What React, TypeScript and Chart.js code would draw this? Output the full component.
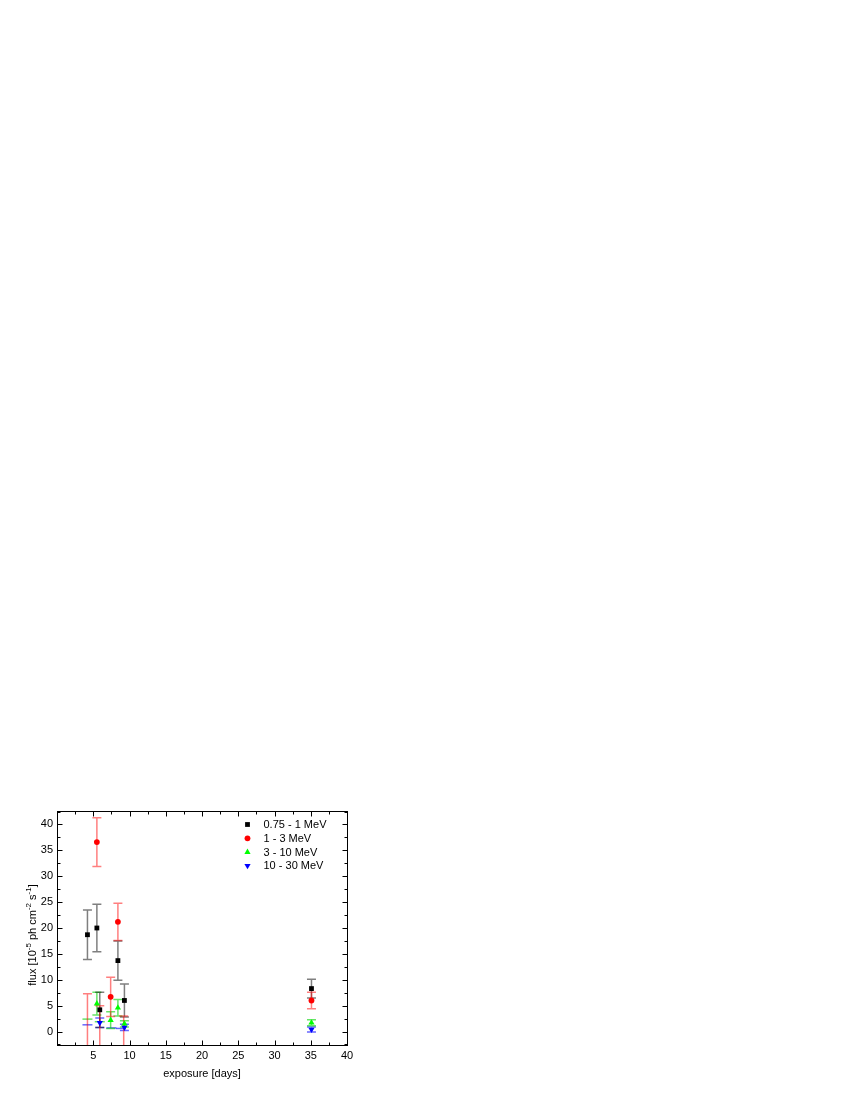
import React, { useEffect, useRef } from 'react';
import { Chart, registerables } from 'chart.js';

Chart.register(...registerables);

// ---- data ----
const seriesNames = ['0.75 - 1 MeV', '1 - 3 MeV', '3 - 10 MeV', '10 - 30 MeV'];
const seriesColors = ['#000000', '#ff0000', '#00ff00', '#0000ff'];
const errorColors = ['rgba(0,0,0,0.5)', 'rgba(255,0,0,0.5)', 'rgba(0,210,0,0.6)', 'rgba(0,0,255,0.6)'];

const blackX = [4.2, 5.5, 5.9, 8.4, 9.3, 35.1];
const blackY = [18.7, 20.0, 4.2, 13.7, 6.0, 8.3];
const blackErr = [4.8, 4.6, 3.4, 3.8, 3.2, 1.8];

const redX = [4.2, 5.5, 5.9, 7.4, 8.4, 9.2, 35.1];
const redY = [-5.0, 36.6, -4.0, 6.7, 21.2, -4.0, 6.0];
const redErr = [12.3, 4.7, 9.0, 3.8, 3.6, 7.0, 1.6];

const greenX = [5.5, 7.4, 8.4, 9.3, 35.1];
const greenY = [5.4, 2.2, 4.6, 1.5, 1.7];
const greenErr = [2.2, 1.6, 1.6, 0.6, 0.6];
const greenLimitX = [4.2, 5.9];
const greenLimitY = [2.4, 1.9];

const blueX = [5.9, 9.3, 35.1];
const blueY = [1.7, 0.8, 0.4];
const blueErr = [0.9, 0.6, 0.5];
const blueLimitX = [4.2, 7.5, 8.8];
const blueLimitY = [1.3, 0.7, 0.6];

const xTickValues = [5, 10, 15, 20, 25, 30, 35, 40];
const yTickValues = [0, 5, 10, 15, 20, 25, 30, 35, 40];
const xTitle = 'exposure [days]';
const yTitleParts: [string, boolean][] = [
  ['flux [10', false], ['-5', true], [' ph cm', false], ['-2', true], [' s', false], ['-1', true], [']', false],
];

const FONT = '"Liberation Sans", Arial, Helvetica, sans-serif';

const seriesX = [blackX, redX, greenX, blueX];
const seriesY = [blackY, redY, greenY, blueY];
const seriesErr = [blackErr, redErr, greenErr, blueErr];
const limitX = [[], [], greenLimitX, blueLimitX];
const limitY = [[], [], greenLimitY, blueLimitY];
const pointStyles = ['rect', 'circle', 'triangle', 'triangle'];
const rotations = [0, 0, 0, 180];
const radii = [3.4, 2.9, 3.6, 3.6];

function drawMarker(ctx: CanvasRenderingContext2D, i: number, x: number, y: number) {
  ctx.save();
  ctx.fillStyle = seriesColors[i];
  ctx.beginPath();
  if (i === 0) {
    ctx.rect(x - 2.4, y - 2.4, 4.8, 4.8);
  } else if (i === 1) {
    ctx.arc(x, y, 2.9, 0, Math.PI * 2);
  } else if (i === 2) {
    ctx.moveTo(x, y - 3.6);
    ctx.lineTo(x - 3.1, y + 1.8);
    ctx.lineTo(x + 3.1, y + 1.8);
    ctx.closePath();
  } else {
    ctx.moveTo(x, y + 3.6);
    ctx.lineTo(x - 3.1, y - 1.8);
    ctx.lineTo(x + 3.1, y - 1.8);
    ctx.closePath();
  }
  ctx.fill();
  ctx.restore();
}

const errorBarPlugin = {
  id: 'errorBars',
  beforeDatasetsDraw(chart: any) {
    const { ctx, chartArea, scales } = chart;
    const xs = scales.x;
    const ys = scales.y;
    ctx.save();
    ctx.beginPath();
    ctx.rect(chartArea.left, chartArea.top, chartArea.right - chartArea.left, chartArea.bottom - chartArea.top);
    ctx.clip();
    ctx.lineWidth = 1.5;
    const order = [3, 2, 0, 1];
    const cap = 4.5;
    for (const s of order) {
      ctx.strokeStyle = errorColors[s];
      for (let i = 0; i < seriesX[s].length; i++) {
        const px = xs.getPixelForValue(seriesX[s][i]);
        const top = ys.getPixelForValue(seriesY[s][i] + seriesErr[s][i]);
        const bot = ys.getPixelForValue(seriesY[s][i] - seriesErr[s][i]);
        ctx.beginPath();
        ctx.moveTo(px, top);
        ctx.lineTo(px, bot);
        ctx.moveTo(px - cap, top);
        ctx.lineTo(px + cap, top);
        ctx.moveTo(px - cap, bot);
        ctx.lineTo(px + cap, bot);
        ctx.stroke();
      }
      for (let i = 0; i < limitX[s].length; i++) {
        const px = xs.getPixelForValue(limitX[s][i]);
        const py = ys.getPixelForValue(limitY[s][i]);
        ctx.beginPath();
        ctx.moveTo(px - cap - 0.5, py);
        ctx.lineTo(px + cap + 0.5, py);
        ctx.stroke();
      }
    }
    ctx.restore();
  },
};

const framePlugin = {
  id: 'frame',
  afterDraw(chart: any) {
    const { ctx, chartArea, scales } = chart;
    const xs = scales.x;
    const ys = scales.y;
    const L = Math.round(chartArea.left) + 0.5;
    const R = Math.round(chartArea.right) + 0.5;
    const T = Math.round(chartArea.top) + 0.5;
    const B = Math.round(chartArea.bottom) + 0.5;
    ctx.save();
    ctx.strokeStyle = '#000';
    ctx.lineWidth = 1;
    ctx.strokeRect(L, T, R - L, B - T);
    ctx.beginPath();
    for (let v = 2.5; v < 40; v += 2.5) {
      const px = Math.round(xs.getPixelForValue(v)) + 0.5;
      const len = v % 5 === 0 ? 5 : 3;
      ctx.moveTo(px, B);
      ctx.lineTo(px, B - len);
      ctx.moveTo(px, T);
      ctx.lineTo(px, T + len);
    }
    for (let v = -2.5; v <= 42.5; v += 2.5) {
      const py = Math.round(ys.getPixelForValue(v)) + 0.5;
      if (py < T || py > B) continue;
      const len = v % 5 === 0 ? 5 : 3;
      ctx.moveTo(L, py);
      ctx.lineTo(L + len, py);
      ctx.moveTo(R, py);
      ctx.lineTo(R - len, py);
    }
    ctx.stroke();

    // axis titles
    ctx.fillStyle = '#000';
    ctx.font = `11px ${FONT}`;
    ctx.textAlign = 'center';
    ctx.textBaseline = 'middle';
    ctx.fillText(xTitle, (chartArea.left + chartArea.right) / 2, 1074);

    // y title with superscripts
    const mainFont = `11px ${FONT}`;
    const supFont = `8px ${FONT}`;
    let total = 0;
    for (const [t, sup] of yTitleParts) {
      ctx.font = sup ? supFont : mainFont;
      total += ctx.measureText(t).width;
    }
    ctx.translate(36, 935);
    ctx.rotate(-Math.PI / 2);
    ctx.textAlign = 'left';
    ctx.textBaseline = 'alphabetic';
    let cx = -total / 2;
    for (const [t, sup] of yTitleParts) {
      ctx.font = sup ? supFont : mainFont;
      ctx.fillText(t, cx, sup ? -5 : 0);
      cx += ctx.measureText(t).width;
    }
    ctx.restore();

    // legend
    ctx.save();
    ctx.font = `11px ${FONT}`;
    ctx.fillStyle = '#000';
    ctx.textAlign = 'left';
    ctx.textBaseline = 'middle';
    const legendRows = [824.5, 838.3, 852.2, 865.7];
    for (let i = 0; i < seriesNames.length; i++) {
      drawMarker(ctx, i, 247.5, legendRows[i]);
      ctx.fillStyle = '#000';
      ctx.fillText(seriesNames[i], 263.5, legendRows[i] + 0.5);
    }
    ctx.restore();
  },
};

export default function App() {
  const canvasRef = useRef<HTMLCanvasElement | null>(null);

  useEffect(() => {
    if (!canvasRef.current) return;
    const datasets = seriesNames.map((name, s) => ({
      label: name,
      data: seriesX[s].map((x, i) => ({ x, y: seriesY[s][i] })),
      pointStyle: pointStyles[s] as any,
      rotation: rotations[s],
      pointRadius: radii[s],
      pointHoverRadius: radii[s],
      backgroundColor: seriesColors[s],
      borderColor: seriesColors[s],
      borderWidth: 0,
      showLine: false,
      clip: 0,
      order: s === 1 ? -1 : 0,
    }));

    const chart = new Chart(canvasRef.current, {
      type: 'scatter',
      data: { datasets },
      options: {
        animation: false,
        responsive: false,
        devicePixelRatio: 1,
        layout: { padding: { left: 17, right: 503, top: 811, bottom: 25 } },
        plugins: {
          legend: { display: false },
          tooltip: { enabled: false },
        },
        scales: {
          x: {
            type: 'linear',
            min: 0,
            max: 40,
            grid: { display: false, drawTicks: false },
            border: { display: false },
            afterFit: (scale: any) => { scale.height = 30; },
            afterBuildTicks: (scale: any) => {
              scale.ticks = xTickValues.map((v) => ({ value: v }));
            },
            ticks: {
              padding: 4,
              color: '#000',
              font: { family: FONT, size: 11 },
              maxRotation: 0,
              autoSkip: false,
              callback: (v: any) => String(v),
            },
          },
          y: {
            type: 'linear',
            min: -2.6,
            max: 42.6,
            grid: { display: false, drawTicks: false },
            border: { display: false },
            afterFit: (scale: any) => { scale.width = 40; },
            afterBuildTicks: (scale: any) => {
              scale.ticks = yTickValues.map((v) => ({ value: v }));
            },
            ticks: {
              padding: 4,
              color: '#000',
              font: { family: FONT, size: 11 },
              autoSkip: false,
              callback: (v: any) => String(v),
            },
          },
        },
      },
      plugins: [errorBarPlugin, framePlugin],
    });
    return () => chart.destroy();
  }, []);

  return (
    <div style={{ position: 'absolute', left: 0, top: 0, width: 850, height: 1100, background: '#fff' }}>
      <canvas ref={canvasRef} width={850} height={1100} style={{ width: 850, height: 1100, display: 'block' }} />
    </div>
  );
}
